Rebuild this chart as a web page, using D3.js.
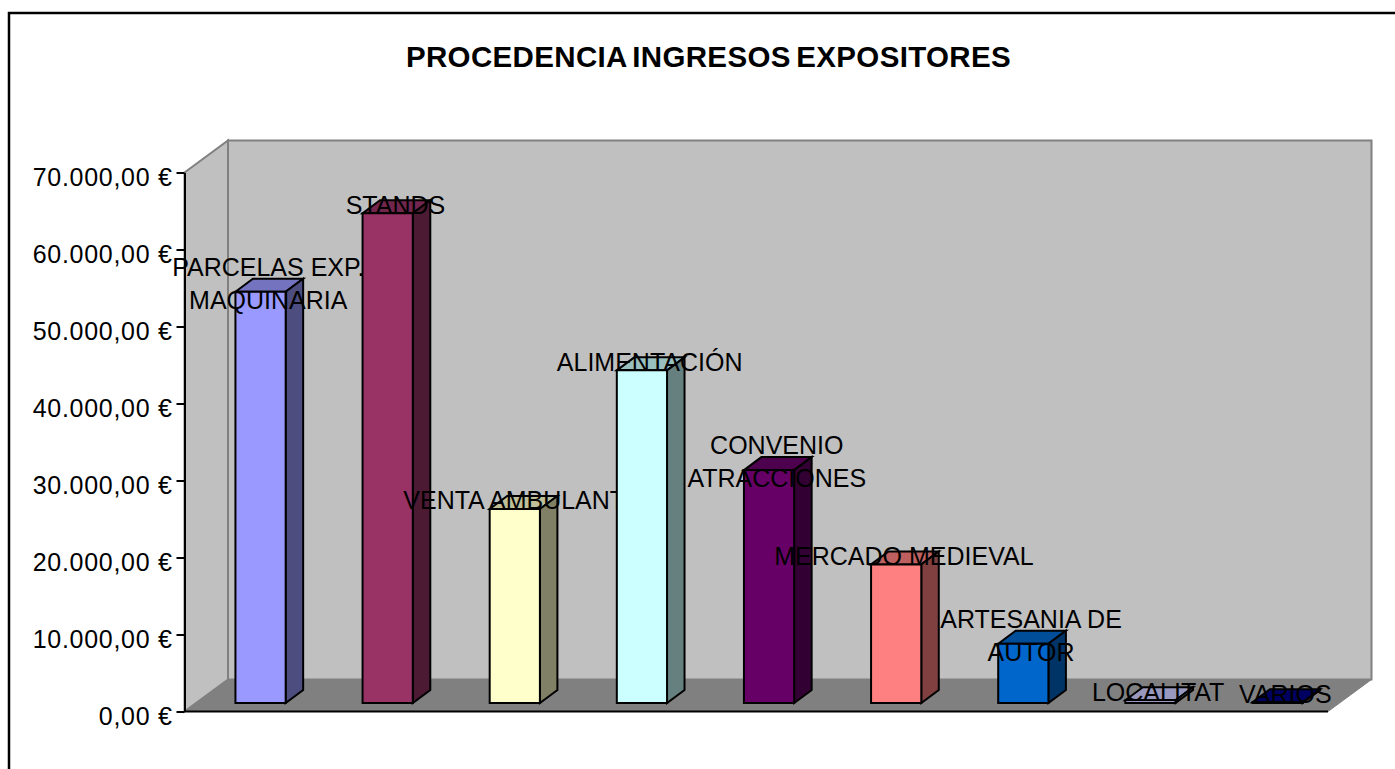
<!DOCTYPE html>
<html>
<head>
<meta charset="utf-8">
<script src="https://d3js.org/d3.v7.min.js"></script>
<style>
  html, body { margin: 0; padding: 0; background: #fff; }
  svg { display: block; }
  text { font-family: "Liberation Sans", Arial, sans-serif; fill: #000; }
</style>
</head>
<body>
<div id="chart"></div>
<script>
// Chart data
const categories = ["PARCELAS EXP. MAQUINARIA", "STANDS", "VENTA AMBULANTE", "ALIMENTACIÓN",
  "CONVENIO ATRACCIONES", "MERCADO MEDIEVAL", "ARTESANIA DE AUTOR", "LOCALITAT", "VARIOS"];
const values = [53400, 63600, 25200, 43200, 30250, 18000, 7700, 350, 100];
const barColors = ["#9999ff", "#993366", "#ffffcc", "#ccffff", "#660066", "#ff8080", "#0066cc", "#ccccff", "#000080"];
const labelLines = [["PARCELAS EXP.", "MAQUINARIA"], ["STANDS"], ["VENTA AMBULANTE"], ["ALIMENTACIÓN"],
  ["CONVENIO", "ATRACCIONES"], ["MERCADO MEDIEVAL"], ["ARTESANIA DE", "AUTOR"], ["LOCALITAT"], ["VARIOS"]];
const tickValues = [0, 10000, 20000, 30000, 40000, 50000, 60000, 70000];
const chartTitle = "PROCEDENCIA INGRESOS EXPOSITORES";

// Plot box of the front face, and the 3d offset of the back wall
let dim = { left: 184.5, right: 1328, top: 172.5, bottom: 711.5 };
let depth = { x: 43.5, y: 32 };
// bars stand a bit behind the front edge of the floor
let barOff = { x: 12.8, y: 8.5 };
let barDepth = { x: 17.5, y: 13 };

let svg = d3.select("#chart")
  .append("svg")
  .attr("width", 1395)
  .attr("height", 769);

// Outer border, cut by the bottom of the picture
svg.append("path")
  .attr("d", "M9,769V13H1395")
  .attr("fill", "none")
  .attr("stroke", "#000")
  .attr("stroke-width", 2.5);

svg.append("text")
  .attr("x", 708.5)
  .attr("y", 67)
  .attr("text-anchor", "middle")
  .attr("font-size", "29.5px")
  .attr("font-weight", "bold")
  .attr("letter-spacing", "0.35px")
  .attr("word-spacing", "-3px")
  .text(chartTitle);

let y = d3.scaleLinear()
  .domain([0, 70000])
  .range([dim.bottom, dim.top]);

let x = d3.scaleBand()
  .domain(categories)
  .range([dim.left + barOff.x, dim.right + barOff.x])
  .paddingInner(0.605)
  .paddingOuter(0.3);

function poly(points, fill, stroke, sw) {
  return svg.append("polygon")
    .attr("points", points.map(p => p.join(",")).join(" "))
    .attr("fill", fill)
    .attr("stroke", stroke)
    .attr("stroke-width", sw)
    .attr("stroke-linejoin", "miter");
}

// shade a bar colour for the top and side faces
function shade(col, k) {
  let c = d3.rgb(col);
  return d3.rgb(c.r * k, c.g * k, c.b * k).formatHex();
}

// Walls and floor
let L = dim.left, R = dim.right, T = dim.top, B = dim.bottom;
poly([[L, T], [L + depth.x, T - depth.y], [L + depth.x, B - depth.y], [L, B]], "#c0c0c0", "#808080", 2);
poly([[L + depth.x, T - depth.y], [R + depth.x, T - depth.y], [R + depth.x, B - depth.y], [L + depth.x, B - depth.y]], "#c0c0c0", "#808080", 2);
poly([[L, B], [L + depth.x, B - depth.y], [R + depth.x, B - depth.y], [R, B]], "#808080", "#808080", 1);

// Axis
let yAxis = d3.axisLeft(y)
  .tickValues(tickValues)
  .tickSize(8)
  .tickSizeOuter(0)
  .tickPadding(4)
  .tickFormat(d => (d === 0 ? "0,00 €" : d3.format(",")(d).replace(/,/g, ".") + ",00 €"));

let axisG = svg.append("g")
  .attr("transform", "translate(" + L + ",0)")
  .call(yAxis);
axisG.selectAll("text")
  .attr("font-size", "25px")
  .attr("font-family", '"Liberation Sans", Arial, sans-serif')
  .attr("letter-spacing", "0.7px")
  .attr("dy", "0.5em");
axisG.selectAll("line, path").attr("stroke", "#000").attr("stroke-width", 2);

svg.append("line")
  .attr("x1", L).attr("x2", R)
  .attr("y1", B).attr("y2", B)
  .attr("stroke", "#000")
  .attr("stroke-width", 2);

// Bars and their labels, each one painted over whatever came before it
categories.forEach((cat, i) => {
  let x0 = x(cat);
  let x1 = x0 + x.bandwidth();
  let y0 = y(0) - barOff.y;
  let yT = y(values[i]) - barOff.y;
  let dx = barDepth.x, dy = barDepth.y;

  poly([[x0, yT], [x0 + dx, yT - dy], [x1 + dx, yT - dy], [x1, yT]], shade(barColors[i], 0.75), "#000", 2);
  poly([[x1, y0], [x1, yT], [x1 + dx, yT - dy], [x1 + dx, y0 - dy]], shade(barColors[i], 0.5), "#000", 2);
  poly([[x0, y0], [x0, yT], [x1, yT], [x1, y0]], barColors[i], "#000", 2);

  let lines = labelLines[i];
  let label = svg.append("text")
    .attr("text-anchor", "middle")
    .attr("font-size", "25px");
  lines.forEach((s, k) => {
    label.append("tspan")
      .attr("x", x0 + x.bandwidth() / 2 + dx / 2 - 1)
      .attr("y", yT - dy / 2 + 7 + (k - (lines.length - 1) / 2) * 33)
      .text(s);
  });
});
</script>
</body>
</html>
